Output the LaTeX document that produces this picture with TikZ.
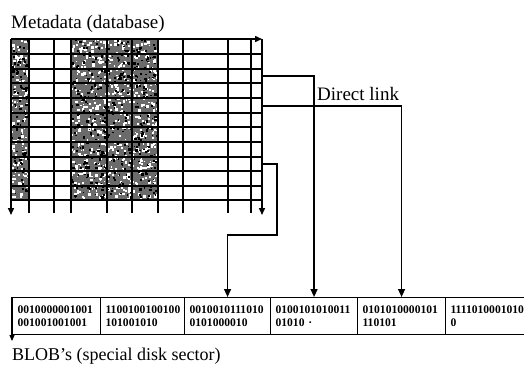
\documentclass[tikz,border=0pt]{standalone}
\usepackage{fontspec}
\setmainfont{Liberation Serif}
\usetikzlibrary{arrows.meta}
\begin{document}
\begin{tikzpicture}[x=1pt,y=-1pt,
  gridline/.style={line width=1.5pt},
  gridarrow/.style={line width=1.5pt,-{Triangle[length=7pt,width=6pt]}},
  link/.style={line width=1.3pt,-{Triangle[length=8pt,width=7pt]}},
  blob/.style={draw,line width=1.1pt,anchor=north west,minimum height=37pt,
    inner xsep=5pt,inner ysep=0pt,align=left,
    font=\fontsize{11.6}{12.5}\bfseries\selectfont},
  caption/.style={anchor=base west,inner sep=0pt,font=\fontsize{19}{21}\selectfont}]
\useasboundingbox (0,0) rectangle (524,368);
\clip (0,0) rectangle (524,368);

% shaded (occupied) columns of the table, with a grainy texture
\fill[black!58] (11,39) rectangle (29,200);
\fill[black!58] (71,39) rectangle (158,200);
\pgfmathsetseed{42}
\foreach \i in {1,...,650}{
  \pgfmathsetmacro\px{71+85*rnd}
  \pgfmathsetmacro\py{39+159*rnd}
  \pgfmathsetmacro\ps{1.2+1.6*rnd}
  \fill[white] (\px,\py) rectangle ++(\ps,\ps);
}
\foreach \i in {1,...,450}{
  \pgfmathsetmacro\px{71+85*rnd}
  \pgfmathsetmacro\py{39+159*rnd}
  \pgfmathsetmacro\ps{1.2+1.4*rnd}
  \fill[black] (\px,\py) rectangle ++(\ps,\ps);
}
\foreach \i in {1,...,140}{
  \pgfmathsetmacro\px{11+16*rnd}
  \pgfmathsetmacro\py{39+159*rnd}
  \pgfmathsetmacro\ps{1.2+1.6*rnd}
  \fill[white] (\px,\py) rectangle ++(\ps,\ps);
}
\foreach \i in {1,...,90}{
  \pgfmathsetmacro\px{11+16*rnd}
  \pgfmathsetmacro\py{39+159*rnd}
  \pgfmathsetmacro\ps{1.2+1.4*rnd}
  \fill[black] (\px,\py) rectangle ++(\ps,\ps);
}

% table grid
\coordinate (tl) at (11,39);
\coordinate (tr) at (262,39);
\foreach \y in {54,69,83,98,113,127,142,157,171,186,200}
  \draw[gridline] (11,\y) -- (262,\y);
\foreach \x in {29,54,71,107,132,158,183,228,251}
  \draw[gridline] (\x,39) -- (\x,213);
\draw[gridarrow] (tl) -- (tr);
\draw[gridarrow] (tl) -- ++(0,176);
\draw[gridarrow] (tr) -- ++(0,176);

% link sources on the right edge of the table
\coordinate (r3) at (262,76);
\coordinate (r5) at (262,106);
\coordinate (r9) at (262,164);

% BLOB sectors
\node[blob,minimum width=88pt,text width=78pt]  (b1) at (12,297)  {0010000001001\\001001001001};
\node[blob,minimum width=84pt,text width=74pt]  (b2) at (100,297) {1100100100100\\101001010};
\node[blob,minimum width=86pt,text width=76pt]  (b3) at (184,297) {0010010111010\\0101000010};
\node[blob,minimum width=87pt,text width=77pt]  (b4) at (270,297) {0100101010011\\01010 ·};
\node[blob,minimum width=88pt,text width=78pt]  (b5) at (357,297) {0101010000101\\110101};
\node[blob,minimum width=110pt,text width=100pt,inner xsep=4pt] (b6) at (445,297) {1111010001010\\0};
\draw[line width=1.1pt,-{Triangle[length=6pt,width=5pt]}] (b1.north west) -- ++(0,44);

% direct links
\draw[link] (r3) -| (b4.north);
\draw[link] (r5) -| (b5.north);
\draw[link] (r9) -- ++(15,0) -- ++(0,71) -| (b3.north);

% captions
\node[caption] (title) at (11,28) {Metadata (database)};
\node[caption] (dlink) at (317,100) {Direct link};
\node[caption,font=\fontsize{18}{20}\selectfont] (blobs) at (12,360) {BLOB’s (special disk sector)};
\end{tikzpicture}
\end{document}
